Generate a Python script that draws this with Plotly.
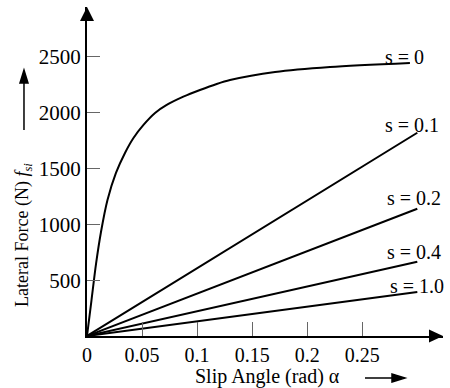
import plotly.graph_objects as go

# ---- data ----
alpha_s0 = [0, 0.0041, 0.0082, 0.0127, 0.0186, 0.0263, 0.0345, 0.0422, 0.0513,
            0.0618, 0.0724, 0.0875, 0.1026, 0.1178, 0.1299, 0.1708, 0.2207, 0.2933]
force_s0 = [0, 322, 645, 931, 1218, 1460, 1639, 1773, 1890,
            1997, 2069, 2143, 2203, 2257, 2292, 2364, 2409, 2445]

alpha_lin = [0, 0.3]
force_s01 = [0, 1820]
force_s02 = [0, 1140]
force_s04 = [0, 665]
force_s10 = [0, 395]

series_labels = ["s = 0", "s = 0.1", "s = 0.2", "s = 0.4", "s = 1.0"]
label_x = [0.2688, 0.2688, 0.2707, 0.2707, 0.2734]
label_y = [2498, 1889, 1236, 752, 448]

x_tickvals = [0, 0.05, 0.1, 0.15, 0.2, 0.25]
x_ticktext = ["0", "0.05", "0.1", "0.15", "0.2", "0.25"]
y_tickvals = [500, 1000, 1500, 2000, 2500]
y_ticktext = ["500", "1000", "1500", "2000", "2500"]

FONT = "Liberation Serif"
LINE = dict(color="black", width=2)

fig = go.Figure()
fig.add_trace(go.Scatter(x=alpha_s0, y=force_s0, mode="lines",
                         line=dict(color="black", width=2, shape="spline", smoothing=0.8)))
for ys in (force_s01, force_s02, force_s04, force_s10):
    fig.add_trace(go.Scatter(x=alpha_lin, y=ys, mode="lines", line=LINE))

annotations = []
for t, x, y in zip(series_labels, label_x, label_y):
    annotations.append(dict(x=x, y=y, xref="x", yref="y", text=t, showarrow=False,
                            xanchor="left", yanchor="middle",
                            font=dict(family=FONT, size=20, color="black")))
annotations.append(dict(x=0.5084, y=(336 - 376) / 329, xref="paper", yref="paper",
                        text="Slip Angle (rad) α", showarrow=False,
                        xanchor="center", yanchor="middle",
                        font=dict(family=FONT, size=20, color="black")))
annotations.append(dict(x=-0.177, y=0.307, xref="paper", yref="paper",
                        text="Lateral Force (N) <i>f</i><sub><i>si</i></sub>", showarrow=False,
                        textangle=-90, xanchor="center", yanchor="middle",
                        font=dict(family=FONT, size=18, color="black")))

def arrow_path(xa, ya, path, lw=0):
    return dict(type="path", xref="paper", yref="paper", xsizemode="pixel", ysizemode="pixel",
                xanchor=xa, yanchor=ya, path=path, fillcolor="black",
                line=dict(color="black", width=lw))

shapes = [
    arrow_path(1, 0, "M -14,-6.5 L 0,0 L -14,6.5 Z"),
    arrow_path(0, 1, "M -7,-14 L 0,0 L 7,-14 Z"),
    arrow_path(-0.177, 0.8085, "M 0,-60 L 0,-12 M -4,-13 L 0,0 L 4,-13 Z", 1.5),
    arrow_path((405 - 87) / 356, (336 - 378) / 329, "M -40,0 L -12,0 M -13,-4 L 0,0 L -13,4 Z", 1.5),
]

fig.update_layout(
    width=450, height=388,
    margin=dict(l=87, r=7, t=7, b=52),
    paper_bgcolor="white", plot_bgcolor="white",
    showlegend=False,
    annotations=annotations,
    shapes=shapes,
    xaxis=dict(range=[0, 356 / 1101], showgrid=False, zeroline=False,
               showline=True, linecolor="black", linewidth=2,
               tickvals=x_tickvals, ticktext=x_ticktext,
               ticks="inside", ticklen=14, tickcolor="#666", tickwidth=1,
               tickfont=dict(family=FONT, size=20, color="black")),
    yaxis=dict(range=[0, 329 / 0.11167], showgrid=False, zeroline=False,
               showline=True, linecolor="black", linewidth=2,
               tickvals=y_tickvals, ticktext=y_ticktext,
               ticks="inside", ticklen=13, tickcolor="#666", tickwidth=1,
               tickfont=dict(family=FONT, size=21, color="black")),
)

fig.write_html("out.html")
